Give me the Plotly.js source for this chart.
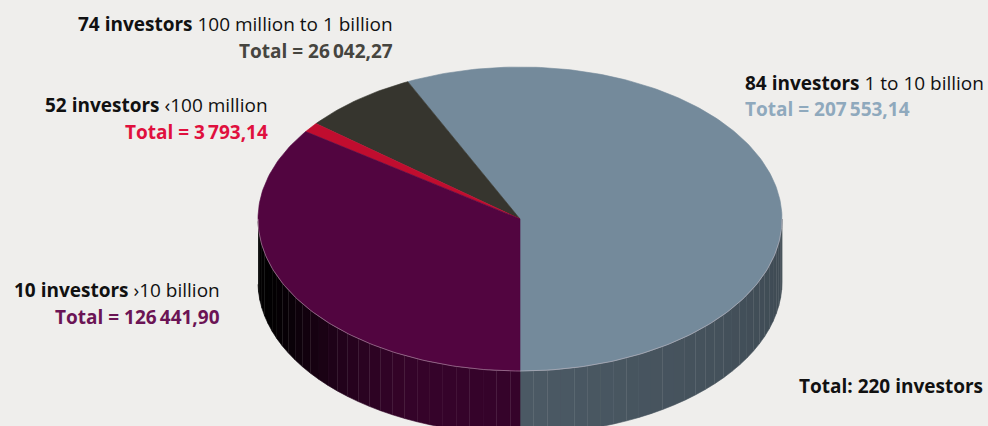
<!DOCTYPE html>
<html>
<head>
<meta charset="utf-8">
<script src="https://cdn.plot.ly/plotly-3.0.1.min.js"></script>
<style>html,body{margin:0;padding:0;background:#efeeec;}#chart{width:988px;height:426px;}</style>
</head>
<body>
<div id="chart"></div>
<script>
// ---- data (slice order: counter-clockwise starting from the front/bottom) ----
const categories = ['1 to 10 billion', '100 million to 1 billion', '\u2039100 million', '\u203A10 billion'];
const investors = [84, 74, 52, 10];
const totals = [207553.14, 26042.27, 3793.14, 126441.90];
const totalInvestors = 220;

// ---- styles ----
const sliceColors = ['#748a9b', '#36352e', '#c00d2f', '#520540'];
const labelColors = ['#8fa9bd', '#46453f', '#e0103e', '#6b1455'];

const W = 988, H = 426;
const cx = 520, cy = 219, rx = 262, ry = 152, depth = 63;
const rad = d => d * Math.PI / 180;
const px = t => cx + rx * Math.cos(rad(t));
const py = (t, dz) => cy - ry * Math.sin(rad(t)) + (dz || 0);

function hexToRgb(h){const n=parseInt(h.slice(1),16);return [(n>>16)&255,(n>>8)&255,n&255];}
function shade(h,f){const c=hexToRgb(h);return 'rgb('+c.map(v=>Math.round(v*f)).join(',')+')';}
function smooth(a,b,x){const t=Math.min(1,Math.max(0,(x-a)/(b-a)));return t*t*(3-2*t);}
function wallFactor(t){
  let a=((t%360)+360)%360;
  if(a<=270) return 0.02+0.63*smooth(195,250,a);
  return 0.65-0.12*((a-270)/90);
}

const sum = totals.reduce((s,v)=>s+v,0);
const traces = [];
let start = -90;
const spans = [];
totals.forEach((v,i)=>{
  const t0 = start, t1 = start + v/sum*360;
  spans.push([t0,t1]);
  start = t1;
});

// side walls (front half only)
spans.forEach(([t0,t1],i)=>{
  const step = 3;
  for(let t=t0; t<t1-1e-9; t+=step){
    const te = Math.min(t+step, t1);
    const mid = (t+te)/2;
    if(Math.sin(rad(mid)) > 0) continue;
    const xs=[], ys=[];
    const n=4;
    for(let k=0;k<=n;k++){const a=t+(te-t)*k/n; xs.push(px(a)); ys.push(py(a,0));}
    for(let k=n;k>=0;k--){const a=t+(te-t)*k/n; xs.push(px(a)); ys.push(py(a,depth));}
    const col = shade(sliceColors[i], wallFactor(mid));
    traces.push({type:'scatter',mode:'lines',x:xs,y:ys,fill:'toself',fillcolor:col,
      line:{color:col,width:0.6},hoverinfo:'skip'});
  }
});

// top faces
spans.forEach(([t0,t1],i)=>{
  const xs=[cx], ys=[cy];
  const n = Math.max(2, Math.ceil((t1-t0)));
  for(let k=0;k<=n;k++){const a=t0+(t1-t0)*k/n; xs.push(px(a)); ys.push(py(a,0));}
  xs.push(cx); ys.push(cy);
  traces.push({type:'scatter',mode:'lines',x:xs,y:ys,fill:'toself',fillcolor:sliceColors[i],
    line:{color:sliceColors[i],width:0.6},hoverinfo:'skip'});
});

// light rim along front edge
(function(){
  const xs=[], ys=[];
  for(let a=180;a<=360;a+=1){xs.push(px(a)); ys.push(py(a,0));}
  traces.push({type:'scatter',mode:'lines',x:xs,y:ys,line:{color:'rgba(215,200,210,0.55)',width:0.8},hoverinfo:'skip'});
})();

function fmt(v){
  const parts = v.toFixed(2).split('.');
  const int = parts[0].replace(/\B(?=(\d{3})+(?!\d))/g,'\u2009');
  return int + ',' + parts[1];
}

// label placement (index -> position)
const labelPos = [
  {x:743, y1:88,  y2:114, anchor:'left'},
  {x:395, y1:29,  y2:56,  anchor:'right'},
  {x:270, y1:110, y2:137, anchor:'right'},
  {x:222, y1:295, y2:322, anchor:'right'}
];
const annotations = [];
const fontFam = '"Open Sans", Lato, sans-serif';
const fs = 19;
const off = 5;
categories.forEach((c,i)=>{
  const p = labelPos[i];
  annotations.push({xref:'x',yref:'y',x:p.x,y:p.y1-off,xanchor:p.anchor,yanchor:'middle',showarrow:false,
    text:'<b>'+investors[i]+' investors</b> '+c,font:{family:fontFam,size:fs,color:'#111111'}});
  annotations.push({xref:'x',yref:'y',x:p.x,y:p.y2-off,xanchor:p.anchor,yanchor:'middle',showarrow:false,
    text:'<b>Total = '+fmt(totals[i])+'</b>',font:{family:fontFam,size:fs,color:labelColors[i]}});
});
annotations.push({xref:'x',yref:'y',x:985,y:391-off,xanchor:'right',yanchor:'middle',showarrow:false,
  text:'<b>Total: '+totalInvestors+' investors</b>',font:{family:fontFam,size:fs,color:'#111111'}});

const layout = {
  width:W,height:H,margin:{l:0,r:0,t:0,b:0},
  paper_bgcolor:'#efeeec',plot_bgcolor:'#efeeec',showlegend:false,
  xaxis:{range:[0,W],visible:false,fixedrange:true},
  yaxis:{range:[H,0],visible:false,fixedrange:true},
  annotations:annotations,hovermode:false
};
Plotly.newPlot('chart',traces,layout,{staticPlot:true,displayModeBar:false});
</script>
</body>
</html>
